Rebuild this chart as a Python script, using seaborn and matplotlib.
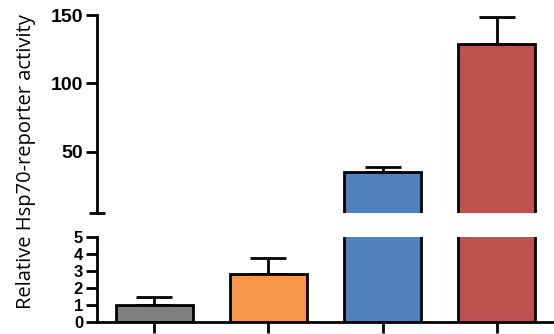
import matplotlib
matplotlib.use("Agg")
import matplotlib.pyplot as plt
import seaborn as sns
import numpy as np
import pandas as pd

groups = ["A", "B", "C", "D"]
values = [1.0, 2.8, 35.4, 128.8]
errors = [0.47, 1.0, 3.2, 19.7]
colors = ["#7f7f7f", "#f79646", "#4f81bd", "#c0504d"]
top_ticks = [50, 100, 150]
bottom_ticks = [0, 1, 2, 3, 4, 5]
ylabel = "Relative Hsp70-reporter activity"

sns.set_style("white")
plt.rcParams["font.family"] = ["Liberation Sans", "DejaVu Sans"]
plt.rcParams["text.color"] = "black"
plt.rcParams["axes.edgecolor"] = "black"
plt.rcParams["xtick.color"] = "black"
plt.rcParams["ytick.color"] = "black"

df = pd.DataFrame({"group": groups, "value": values})

fig = plt.figure(figsize=(5.54, 3.34), dpi=100)
ax_top = fig.add_axes([0.175, 0.362, 0.825, 0.593])
ax_bot = fig.add_axes([0.175, 0.036, 0.825, 0.254])

for ax in (ax_top, ax_bot):
    sns.barplot(data=df, x="group", y="value", hue="group", palette=colors,
                legend=False, ax=ax, width=0.675, edgecolor="black",
                linewidth=2, errorbar=None, saturation=1)
    x = np.arange(len(groups))
    ax.errorbar(x, values, yerr=[np.zeros(len(errors)), errors], fmt="none",
                ecolor="black", elinewidth=2, capsize=13, capthick=2, zorder=0)
    ax.set_xlim(-0.5, 3.5)
    ax.set_xlabel("")
    ax.set_ylabel("")
    for s in ["top", "right"]:
        ax.spines[s].set_visible(False)
    ax.spines["left"].set_linewidth(2)
    ax.spines["bottom"].set_linewidth(2)
    ax.spines["left"].set_color("black")
    ax.spines["bottom"].set_color("black")
    ax.patch.set_alpha(0)

ax_top.set_ylim(5, 150)
ax_top.set_yticks(top_ticks)
ax_top.set_yticks([5], minor=True)
ax_top.tick_params(axis="y", which="minor", direction="inout", length=12, width=2, left=True, color="black")
ax_top.spines["bottom"].set_visible(False)
ax_top.set_xticks([])
ax_top.tick_params(axis="y", which="major", length=8, width=2, left=True, labelsize=14, pad=2,
                   color="black", labelcolor="black")
for t in ax_top.get_yticklabels():
    t.set_fontweight("bold")

ax_bot.set_ylim(0, 5)
ax_bot.set_yticks(bottom_ticks)
ax_bot.tick_params(axis="y", length=8, width=2, left=True, labelsize=12, pad=2,
                   color="black", labelcolor="black")
ax_bot.tick_params(axis="x", length=8, width=2, bottom=True, labelbottom=False, color="black")
for t in ax_bot.get_yticklabels():
    t.set_fontweight("bold")

fig.text(0.047, 0.515, ylabel, rotation=90, ha="center", va="center",
         fontsize=14.5, color="black", family=["Open Sans", "DejaVu Sans"])

fig.savefig("out.png", dpi=100)
